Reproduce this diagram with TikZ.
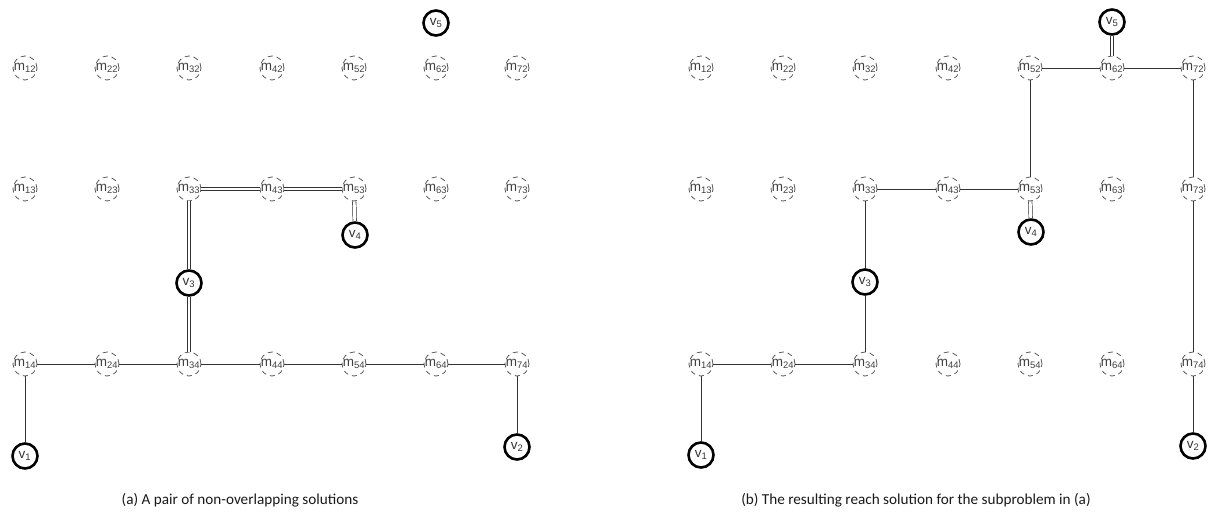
\documentclass[tikz,border=0pt]{standalone}
\usepackage{fontspec}
\setmainfont{Liberation Sans}
\newfontfamily\capfont{Carlito}

\tikzset{
  mnode/.style={circle,draw=black!65,dash pattern=on 5pt off 4pt,line width=0.8pt,
    minimum size=24pt,inner sep=0pt,text=black!75,font=\fontsize{13.5}{13.5}\selectfont},
  vnode/.style={circle,draw=black,line width=2.6pt,minimum size=25pt,inner sep=0pt,
    text=black!80,font=\fontsize{13.5}{13.5}\selectfont},
  link/.style={draw=black!80,line width=0.8pt},
  dlink/.style={draw=black!80,line width=0.7pt,double=white,double distance=2.8pt},
  caption/.style={font=\capfont\fontsize{15.2}{15.2}\selectfont,text=black!90}
}
% zero-width labels so the dashed circles keep their size
\newcommand{\mlab}[1]{\makebox[0pt]{m\textsubscript{#1}}}
\newcommand{\vlab}[1]{v\textsubscript{#1}}

\begin{document}
\begin{tikzpicture}[x=1pt,y=-1pt]
\useasboundingbox (0,0) rectangle (1208,512);

% (a) two non-overlapping solutions
\node[mnode] (a12) at (25,68) {\mlab{12}};
\node[mnode] (a22) at (107,68) {\mlab{22}};
\node[mnode] (a32) at (189,68) {\mlab{32}};
\node[mnode] (a42) at (272,68) {\mlab{42}};
\node[mnode] (a52) at (354,68) {\mlab{52}};
\node[mnode] (a62) at (436,68) {\mlab{62}};
\node[mnode] (a72) at (517,68) {\mlab{72}};
\node[mnode] (a13) at (25,189) {\mlab{13}};
\node[mnode] (a23) at (107,189) {\mlab{23}};
\node[mnode] (a33) at (189,189) {\mlab{33}};
\node[mnode] (a43) at (272,189) {\mlab{43}};
\node[mnode] (a53) at (354,189) {\mlab{53}};
\node[mnode] (a63) at (436,189) {\mlab{63}};
\node[mnode] (a73) at (517,189) {\mlab{73}};
\node[mnode] (a14) at (25,364) {\mlab{14}};
\node[mnode] (a24) at (107,364) {\mlab{24}};
\node[mnode] (a34) at (189,364) {\mlab{34}};
\node[mnode] (a44) at (272,364) {\mlab{44}};
\node[mnode] (a54) at (354,364) {\mlab{54}};
\node[mnode] (a64) at (436,364) {\mlab{64}};
\node[mnode] (a74) at (517,364) {\mlab{74}};
\node[vnode] (av1) at (25,456) {\vlab{1}};
\node[vnode] (av2) at (517,447) {\vlab{2}};
\node[vnode] (av3) at (189,283) {\vlab{3}};
\node[vnode] (av4) at (355,235) {\vlab{4}};
\node[vnode] (av5) at (436,23) {\vlab{5}};

\draw[link] (av1) -- (a14);
\draw[link] (a14) -- (a24) -- (a34) -- (a44) -- (a54) -- (a64) -- (a74);
\draw[link] (a74) -- (av2);
\draw[dlink] (a34) -- (av3);
\draw[dlink] (av3) -- (a33);
\draw[dlink] (a33) -- (a43);
\draw[dlink] (a43) -- (a53);
\draw[dlink] (a53) -- (av4);

\node[caption] (capa) at (240,500) {(a) A pair of non-overlapping solutions};

% (b) the merged reach solution
\node[mnode] (b12) at (701,68) {\mlab{12}};
\node[mnode] (b22) at (783,68) {\mlab{22}};
\node[mnode] (b32) at (865,68) {\mlab{32}};
\node[mnode] (b42) at (948,68) {\mlab{42}};
\node[mnode] (b52) at (1030,68) {\mlab{52}};
\node[mnode] (b62) at (1112,68) {\mlab{62}};
\node[mnode] (b72) at (1193,68) {\mlab{72}};
\node[mnode] (b13) at (701,189) {\mlab{13}};
\node[mnode] (b23) at (783,189) {\mlab{23}};
\node[mnode] (b33) at (865,189) {\mlab{33}};
\node[mnode] (b43) at (948,189) {\mlab{43}};
\node[mnode] (b53) at (1030,189) {\mlab{53}};
\node[mnode] (b63) at (1112,189) {\mlab{63}};
\node[mnode] (b73) at (1193,189) {\mlab{73}};
\node[mnode] (b14) at (701,364) {\mlab{14}};
\node[mnode] (b24) at (783,364) {\mlab{24}};
\node[mnode] (b34) at (865,364) {\mlab{34}};
\node[mnode] (b44) at (948,364) {\mlab{44}};
\node[mnode] (b54) at (1030,364) {\mlab{54}};
\node[mnode] (b64) at (1112,364) {\mlab{64}};
\node[mnode] (b74) at (1193,364) {\mlab{74}};
\node[vnode] (bv1) at (701,455) {\vlab{1}};
\node[vnode] (bv2) at (1193,446) {\vlab{2}};
\node[vnode] (bv3) at (865,282) {\vlab{3}};
\node[vnode] (bv4) at (1031,232) {\vlab{4}};
\node[vnode] (bv5) at (1112,22) {\vlab{5}};

\draw[link] (bv1) -- (b14);
\draw[link] (b14) -- (b24) -- (b34);
\draw[link] (b34) -- (bv3) -- (b33);
\draw[link] (b33) -- (b43) -- (b53);
\draw[link] (b53) -- (b52);
\draw[link] (b52) -- (b62) -- (b72);
\draw[link] (b72) -- (b73) -- (b74) -- (bv2);
\draw[dlink] (b53) -- (bv4);
\draw[dlink] (b62) -- (bv5);

\node[caption] (capb) at (916,500) {(b) The resulting reach solution for the subproblem in (a)};
\end{tikzpicture}
\end{document}
